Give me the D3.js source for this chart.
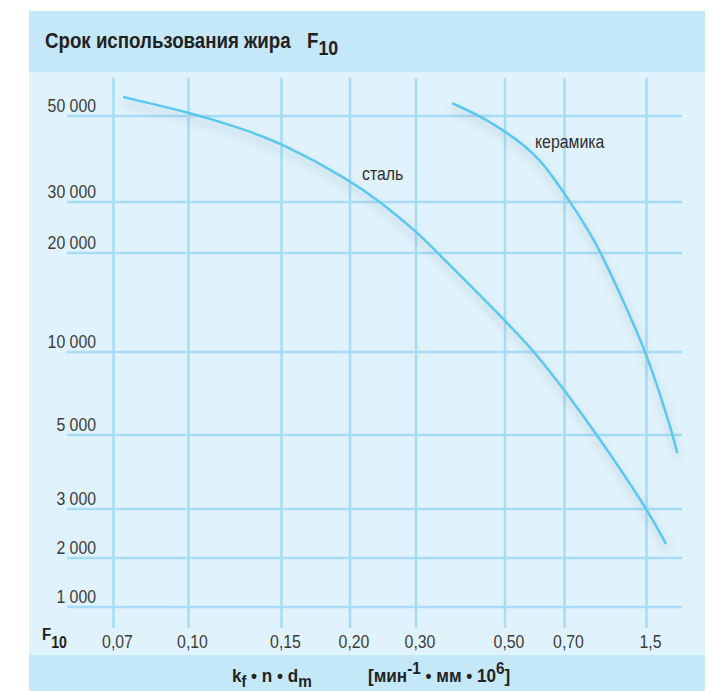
<!DOCTYPE html>
<html>
<head>
<meta charset="utf-8">
<script src="https://cdn.jsdelivr.net/npm/d3@7"></script>
<style>
  body { margin: 0; background: #fff; }
  text { font-family: "Liberation Sans", Arial, sans-serif; }
</style>
</head>
<body>
<div id="vis"></div>
<script>
// axis ticks (the chart uses an irregular, hand-spaced scale)
var xTicks = [0.07, 0.10, 0.15, 0.20, 0.30, 0.50, 0.70, 1.5];
var xTickLabels = ["0,07", "0,10", "0,15", "0,20", "0,30", "0,50", "0,70", "1,5"];
var yTicks = [1000, 2000, 3000, 5000, 10000, 20000, 30000, 50000];
var yTickLabels = ["1 000", "2 000", "3 000", "5 000", "10 000", "20 000", "30 000", "50 000"];

// curves: [kf*n*dm, F10]
var steel = [
  [0.0738, 54400], [0.10, 50900], [0.128, 47200], [0.15, 43700], [0.20, 35100],
  [0.246, 30000], [0.30, 24300], [0.349, 20000], [0.50, 13200], [0.60, 10000],
  [0.70, 7700], [1.02, 5000], [1.5, 3030], [1.69, 2290]
];
var ceramic = [
  [0.381, 53000], [0.444, 50000], [0.50, 46500], [0.618, 40500], [0.754, 30000],
  [1.0, 22550], [1.27, 15250], [1.495, 10000], [1.65, 7100], [1.756, 5000], [1.80, 4510]
];

var width = 712, height = 691;
var squeeze = 0.88;  // fake a condensed face

var svg = d3.select("#vis").append("svg")
  .attr("width", width)
  .attr("height", height);

// place a text squeezed horizontally
function place(x0, y0, s) {
  return "translate(" + x0 + "," + y0 + ") scale(" + (s || squeeze) + ",1)";
}

// panel background
var panel = {left: 29, right: 705, top: 11, headBottom: 72, footTop: 655, bottom: 691};
svg.append("rect")
  .attr("x", panel.left).attr("y", panel.top)
  .attr("width", panel.right - panel.left).attr("height", panel.bottom - panel.top)
  .attr("fill", "#e0f2fb");
svg.append("rect")
  .attr("x", panel.left).attr("y", panel.top)
  .attr("width", panel.right - panel.left).attr("height", panel.headBottom - panel.top)
  .attr("fill", "#c5e8f8");
svg.append("rect")
  .attr("x", panel.left).attr("y", panel.footTop)
  .attr("width", panel.right - panel.left).attr("height", panel.bottom - panel.footTop)
  .attr("fill", "#c5e8f8");

// piecewise scales, spacing as in the original
var x = d3.scaleLinear()
  .domain(xTicks)
  .range([113.5, 188.5, 281.5, 350, 416, 505, 564.5, 646.5]);
var y = d3.scaleLinear()
  .domain(yTicks)
  .range([607, 558, 509, 435, 352, 253, 202, 116]);

var gridColor = "#a6dcf5";
var grid = svg.append("g");

// vertical grid
grid.selectAll(".vline")
  .data(xTicks)
  .enter().append("line")
    .attr("x1", function(d) { return x(d); })
    .attr("x2", function(d) { return x(d); })
    .attr("y1", 78).attr("y2", 628)
    .attr("stroke", gridColor)
    .attr("stroke-width", 2.5);

// horizontal grid
grid.selectAll(".hline")
  .data(yTicks)
  .enter().append("line")
    .attr("x1", 67).attr("x2", 682)
    .attr("y1", function(d) { return y(d); })
    .attr("y2", function(d) { return y(d); })
    .attr("stroke", gridColor)
    .attr("stroke-width", 2.5);

// y labels
svg.selectAll(".ylab")
  .data(yTicks)
  .enter().append("text")
    .attr("transform", function(d) { return place(96, y(d) - 4); })
    .attr("text-anchor", "end")
    .attr("font-size", "18px")
    .attr("fill", "#3c3c3c")
    .text(function(d, i) { return yTickLabels[i]; });

// x labels
svg.selectAll(".xlab")
  .data(xTicks)
  .enter().append("text")
    .attr("transform", function(d) { return place(x(d) + 4, 648); })
    .attr("text-anchor", "middle")
    .attr("font-size", "18px")
    .attr("fill", "#3c3c3c")
    .text(function(d, i) { return xTickLabels[i]; });

// F10 at the axis corner
var f10 = svg.append("text")
  .attr("transform", place(42, 640))
  .attr("font-size", "17px")
  .attr("font-weight", "bold")
  .attr("fill", "#222");
f10.append("tspan").text("F");
f10.append("tspan").attr("dy", 8).attr("font-size", "16px").text("10");

// shadow for the curves
var defs = svg.append("defs");
var filt = defs.append("filter").attr("id", "shadow")
  .attr("x", "-10%").attr("y", "-10%").attr("width", "130%").attr("height", "130%");
filt.append("feDropShadow")
  .attr("dx", 1).attr("dy", 6)
  .attr("stdDeviation", 4)
  .attr("flood-color", "#5f7480")
  .attr("flood-opacity", 0.35);

var line = d3.line()
  .x(function(d) { return x(d[0]); })
  .y(function(d) { return y(d[1]); })
  .curve(d3.curveBasis);

svg.selectAll(".curve")
  .data([steel, ceramic])
  .enter().append("path")
    .attr("d", line)
    .attr("fill", "none")
    .attr("stroke", "#5cc8ef")
    .attr("stroke-width", 2.5)
    .attr("filter", "url(#shadow)");

// curve labels
svg.append("text")
  .attr("transform", place(362, 180))
  .attr("font-size", "18px").attr("fill", "#2e2e2e")
  .text("сталь");
svg.append("text")
  .attr("transform", place(535, 148))
  .attr("font-size", "18px").attr("fill", "#2e2e2e")
  .text("керамика");

// title
svg.append("text")
  .attr("transform", place(45, 48, 0.85))
  .attr("font-size", "22px")
  .attr("font-weight", "bold")
  .attr("fill", "#222")
  .text("Срок использования жира");
var t2 = svg.append("text")
  .attr("transform", place(307, 48, 0.85))
  .attr("font-size", "22px")
  .attr("font-weight", "bold")
  .attr("fill", "#222");
t2.append("tspan").text("F");
t2.append("tspan").attr("dy", 7).attr("font-size", "21px").text("10");

// footer axis name
var foot = svg.append("text")
  .attr("transform", place(232, 682, 0.9))
  .attr("font-size", "19px")
  .attr("font-weight", "bold")
  .attr("fill", "#222");
foot.append("tspan").text("k");
foot.append("tspan").attr("dy", 5).attr("font-size", "16px").text("f");
foot.append("tspan").attr("dy", -5).text(" • n • d");
foot.append("tspan").attr("dy", 5).attr("font-size", "17px").text("m");

var unit = svg.append("text")
  .attr("transform", place(368, 682, 0.9))
  .attr("font-size", "19px")
  .attr("font-weight", "bold")
  .attr("fill", "#222");
unit.append("tspan").text("[мин");
unit.append("tspan").attr("dy", -8).attr("font-size", "17px").text("-1");
unit.append("tspan").attr("dy", 8).text(" • мм • 10");
unit.append("tspan").attr("dy", -8).attr("font-size", "17px").text("6");
unit.append("tspan").attr("dy", 8).text("]");
</script>
</body>
</html>
